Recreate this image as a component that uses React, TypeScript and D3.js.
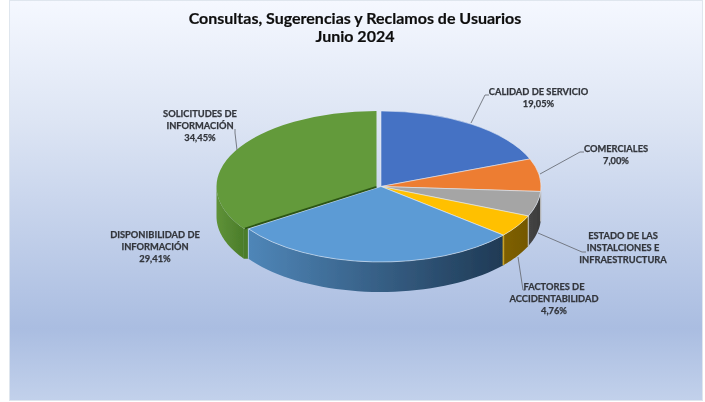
import React from "react";
import * as d3 from "d3";

const W = 705, H = 402;
const categories = ["CALIDAD DE SERVICIO", "COMERCIALES", "ESTADO DE LAS INSTALCIONES E INFRAESTRUCTURA", "FACTORES DE ACCIDENTABILIDAD", "DISPONIBILIDAD DE INFORMACIÓN", "SOLICITUDES DE INFORMACIÓN"];
const values = [19.05, 7.0, 5.33, 4.76, 29.41, 34.45];
const topColors = ["#4472c4", "#ed7d31", "#a5a5a5", "#ffc000", "#5b9bd5", "#639a3a"];
const wallStops = [
  ["#2f5597", "#2f5597"],
  ["#a04f1a", "#a04f1a"],
  ["#454545", "#3c3c3c"],
  ["#7f6000", "#745800"],
  ["#4f86b8", "#1f3a55"],
  ["#5f9238", "#4b7d2a"],
];
const labelLines = [
  ["CALIDAD DE SERVICIO", "19,05%"],
  ["COMERCIALES", "7,00%"],
  ["ESTADO DE LAS", "INSTALCIONES E", "INFRAESTRUCTURA"],
  ["FACTORES DE", "ACCIDENTABILIDAD", "4,76%"],
  ["DISPONIBILIDAD DE", "INFORMACIÓN", "29,41%"],
  ["SOLICITUDES DE", "INFORMACIÓN", "34,45%"],
];
const labelPos = [[538.5, 92], [616, 149], [623, 236], [554, 287], [155, 235], [200, 114]];
const leaders = [
  [[471, 123], [485, 95], [489, 95]],
  [[540, 174], [580, 152], [584, 152]],
  [[538, 233], [582, 252], [586, 252]],
  [[518, 257], [523, 290], [525, 290]],
  [],
  [[237, 150], [235, 133], [235, 129]],
];
const offsets = [[381, 186.5], [381, 186.5], [381, 186.5], [381, 186.5], [381, 186.5], [376.5, 186.5]];
const rx = 160, ry = 75.5, depth = 30;
const FONT = "Lato, 'Open Sans', sans-serif";

const pieGen = d3.pie<number>().sort(null);
const arcs = pieGen(values);
const arcGen = d3.arc<d3.PieArcDatum<number>>().innerRadius(0).outerRadius(rx);

function pt(a: number, i: number, dy = 0): [number, number] {
  const [cx, cy] = offsets[i];
  return [cx + rx * Math.sin(a), cy - ry * Math.cos(a) + dy];
}
function wall(i: number) {
  const a0 = Math.max(arcs[i].startAngle, Math.PI / 2);
  const a1 = Math.min(arcs[i].endAngle, (3 * Math.PI) / 2);
  if (a1 <= a0) return null;
  const angles = d3.range(0, 41).map((k) => a0 + ((a1 - a0) * k) / 40);
  const upper = angles.map((a) => pt(a, i));
  const lower = angles.map((a) => pt(a, i, depth)).reverse();
  return d3.line()([...upper, ...lower]) + "Z";
}

export default function App() {
  const gA = pt(arcs[5].startAngle, 5);
  const bA = pt(arcs[4].endAngle, 4);
  const [gx, gy] = offsets[5];
  return (
    <svg width={W} height={H} style={{ position: "absolute", left: 0, top: 0 }} fontFamily={FONT}>
      <defs>
        <linearGradient id="bg" x1="0" y1="0" x2="0" y2="1">
          <stop offset="0" stopColor="#f5f8ff" />
          <stop offset="0.3" stopColor="#dde5f4" />
          <stop offset="0.82" stopColor="#aabde1" />
          <stop offset="1" stopColor="#c2d1eb" />
        </linearGradient>
        {wallStops.map((s, i) => {
          const a0 = Math.max(arcs[i].startAngle, Math.PI / 2);
          const a1 = Math.min(arcs[i].endAngle, (3 * Math.PI) / 2);
          const xa = pt(a0, i)[0], xb = pt(a1, i)[0];
          return (
            <linearGradient key={i} id={`w${i}`} gradientUnits="userSpaceOnUse" x1={Math.min(xa, xb)} x2={Math.max(xa, xb)} y1={0} y2={0}>
              <stop offset="0" stopColor={s[0]} />
              <stop offset="1" stopColor={s[1]} />
            </linearGradient>
          );
        })}
        <filter id="soft" x="-5%" y="-5%" width="110%" height="110%">
          <feGaussianBlur stdDeviation="0.35" />
        </filter>
      </defs>
      <rect x={0} y={0} width={W} height={H} fill="#ffffff" />
      <g filter="url(#soft)">
        <rect x={9.5} y={0.5} width={693} height={400} fill="url(#bg)" stroke="#dfe6ee" />
        <text x={355} y={24} textAnchor="middle" fontSize={16} fontWeight={700} fill="#111" stroke="#111" strokeWidth={0.2}>Consultas, Sugerencias y Reclamos de Usuarios</text>
        <text x={355} y={42} textAnchor="middle" fontSize={16} fontWeight={700} fill="#111" stroke="#111" strokeWidth={0.2}>Junio 2024</text>
        <path d={d3.line()([gA, bA, [bA[0], bA[1] + depth], [gA[0], gA[1] + depth]]) + "Z"} fill="#4b7d2a" />
        {arcs.map((_, i) => {
          const d = wall(i);
          return d ? <path key={i} d={d} fill={`url(#w${i})`} /> : null;
        })}
        {[3, 2].map((i) => {
          const p = pt(arcs[i].startAngle, i);
          return <line key={i} x1={p[0]} y1={p[1]} x2={p[0]} y2={p[1] + depth} stroke="#b9b9b9" strokeWidth={1.2} />;
        })}
        {(() => {
          const p = pt(arcs[4].startAngle, 4);
          return <line x1={p[0]} y1={p[1]} x2={p[0]} y2={p[1] + depth} stroke="#c9a227" strokeWidth={1.6} />;
        })()}
        {(() => {
          const p = pt(arcs[4].endAngle, 4);
          return <line x1={p[0]} y1={p[1]} x2={p[0]} y2={p[1] + depth} stroke="#a9c8e6" strokeWidth={1} />;
        })()}
        {arcs.map((a, i) => (
          <path
            key={i}
            d={arcGen(a) as string}
            transform={`translate(${offsets[i][0]},${offsets[i][1]}) scale(1,${ry / rx})`}
            fill={topColors[i]}
            stroke="#e8eef6"
            strokeOpacity={i === 5 ? 0 : 0.85}
            strokeWidth={0.9}
          />
        ))}
        {/* dark cut edge along the exploded green slice */}
        <line x1={gx} y1={gy + 0.3} x2={gA[0] + 1} y2={gA[1] - 0.2} stroke="#2c5414" strokeWidth={1.8} />
        {leaders.filter((l) => l.length > 0).map((l, i) => (
          <path key={i} d={d3.line()(l as [number, number][]) as string} fill="none" stroke="#6b6f78" strokeWidth={0.9} />
        ))}
        {labelLines.map((lines, i) => (
          <text key={i} textAnchor="middle" fontSize={9.3} fontWeight={700} fill="#33363c" stroke="#33363c" strokeWidth={0.25}>
            {lines.map((t, j) => (
              <tspan key={j} x={labelPos[i][0]} y={labelPos[i][1] + 3 + j * 12.2}>{t}</tspan>
            ))}
          </text>
        ))}
      </g>
    </svg>
  );
}
